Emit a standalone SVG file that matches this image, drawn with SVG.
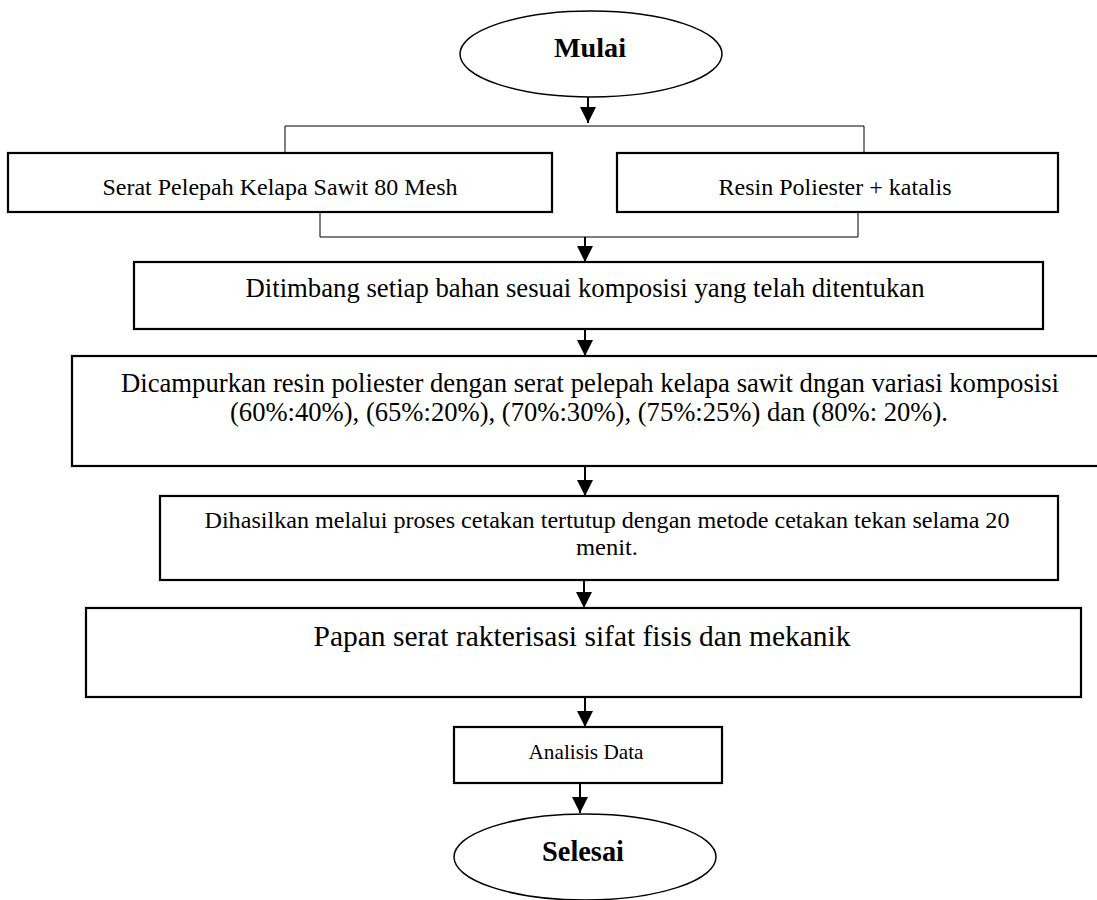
<svg xmlns="http://www.w3.org/2000/svg" width="1097" height="900" viewBox="0 0 1097 900">
<style>
.box{fill:#fff;stroke:#000;stroke-width:2.2}
.term{fill:#fff;stroke:#000;stroke-width:1.5}
.ln{fill:none;stroke:#000;stroke-width:1}
.ar{fill:none;stroke:#000;stroke-width:2}
text{font-family:"Liberation Serif","Times New Roman",serif;fill:#000;text-anchor:middle}
.b{font-weight:bold}
</style>
<defs>
<marker id="ah" markerWidth="16" markerHeight="16" viewBox="0 0 16 16" refX="16" refY="8" orient="auto" markerUnits="userSpaceOnUse">
<path d="M0,0 L16,8 L0,16 Z" fill="#000"/>
</marker>
</defs>
<rect width="1097" height="900" fill="#fff"/>
<g id="connectors">
<line class="ar" x1="588" y1="97" x2="588" y2="123" marker-end="url(#ah)"/>
<polyline class="ln" points="285,153 285,126 864,126 864,153"/>
<polyline class="ln" points="320,212 320,237 858,237 858,212"/>
<line class="ar" x1="585" y1="237" x2="585" y2="262" marker-end="url(#ah)"/>
<line class="ar" x1="585" y1="329" x2="585" y2="356" marker-end="url(#ah)"/>
<line class="ar" x1="585" y1="466" x2="585" y2="496" marker-end="url(#ah)"/>
<line class="ar" x1="584" y1="580" x2="584" y2="608" marker-end="url(#ah)"/>
<line class="ar" x1="585" y1="697" x2="585" y2="727" marker-end="url(#ah)"/>
<line class="ar" x1="580" y1="783" x2="580" y2="813" marker-end="url(#ah)"/>
</g>
<g id="mulai">
<ellipse class="term" cx="591" cy="54" rx="131" ry="43"/>
<text class="b" x="590" y="57" font-size="28" textLength="72" lengthAdjust="spacingAndGlyphs">Mulai</text>
</g>
<g id="serat">
<rect class="box" x="8" y="153" width="544" height="59"/>
<text x="280" y="195" font-size="24" textLength="355" lengthAdjust="spacingAndGlyphs">Serat Pelepah Kelapa Sawit 80 Mesh</text>
</g>
<g id="resin">
<rect class="box" x="617" y="153" width="441" height="59"/>
<text x="835" y="195" font-size="24" textLength="233" lengthAdjust="spacingAndGlyphs">Resin Poliester + katalis</text>
</g>
<g id="ditimbang">
<rect class="box" x="134" y="262" width="909" height="67"/>
<text x="585" y="297" font-size="26.5" textLength="679" lengthAdjust="spacingAndGlyphs">Ditimbang setiap bahan sesuai komposisi yang telah ditentukan</text>
</g>
<g id="dicampurkan">
<rect class="box" x="72" y="356" width="1030" height="110"/>
<text x="590" y="392" font-size="26.5" textLength="938" lengthAdjust="spacingAndGlyphs">Dicampurkan resin poliester dengan serat pelepah kelapa sawit dngan variasi komposisi</text>
<text x="589" y="421" font-size="26.5" textLength="718" lengthAdjust="spacingAndGlyphs">(60%:40%), (65%:20%), (70%:30%), (75%:25%) dan (80%: 20%).</text>
</g>
<g id="dihasilkan">
<rect class="box" x="160" y="496" width="898" height="84"/>
<text x="607" y="528" font-size="24" textLength="805" lengthAdjust="spacingAndGlyphs">Dihasilkan melalui proses cetakan tertutup dengan metode cetakan tekan selama 20</text>
<text x="607" y="555" font-size="24" textLength="62" lengthAdjust="spacingAndGlyphs">menit.</text>
</g>
<g id="papan">
<rect class="box" x="86" y="608" width="995" height="89"/>
<text x="582" y="646" font-size="29" textLength="537" lengthAdjust="spacingAndGlyphs">Papan serat rakterisasi sifat fisis dan mekanik</text>
</g>
<g id="analisis">
<rect class="box" x="454" y="727" width="268" height="56"/>
<text x="586" y="759" font-size="21.5" textLength="115" lengthAdjust="spacingAndGlyphs">Analisis Data</text>
</g>
<g id="selesai">
<ellipse class="term" cx="585" cy="857" rx="131" ry="43"/>
<text class="b" x="583" y="861" font-size="28.5" textLength="82" lengthAdjust="spacingAndGlyphs">Selesai</text>
</g>
</svg>
